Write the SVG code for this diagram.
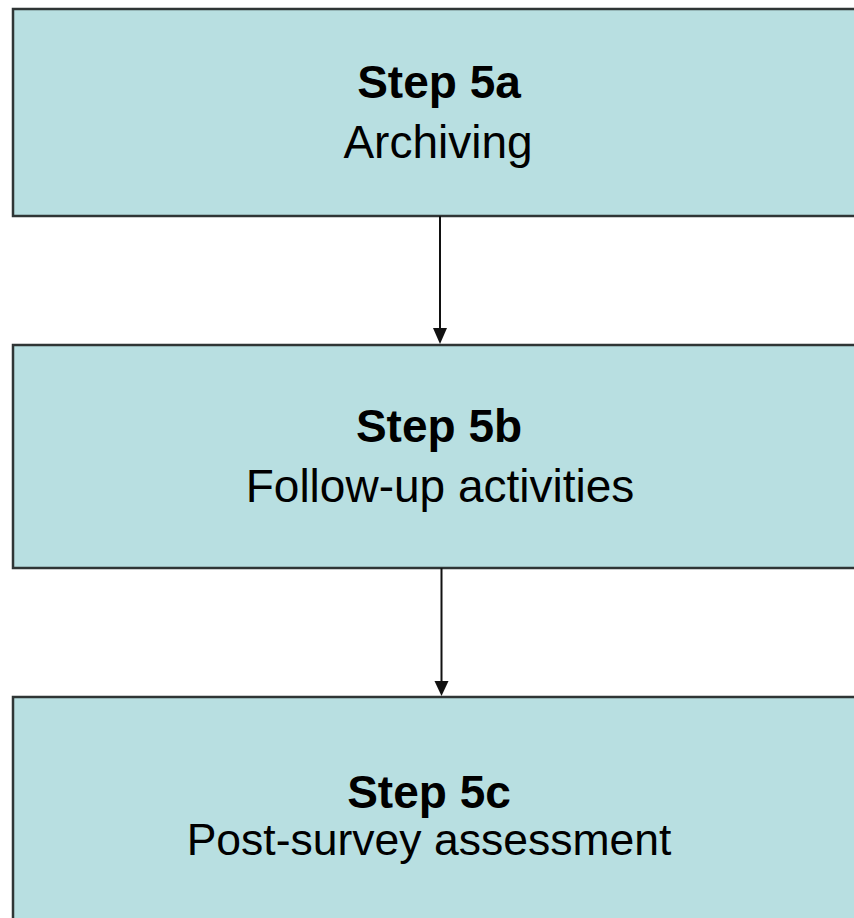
<svg xmlns="http://www.w3.org/2000/svg" width="854" height="918" viewBox="0 0 854 918">
<style>
.box{fill:#b8dfe1;stroke:#2f3535;stroke-width:2.5}
.t{font-family:"Liberation Sans",Arial,sans-serif;font-size:46px;fill:#000;text-anchor:middle}
.b{font-weight:bold}
.c{stroke:#111;stroke-width:2;fill:none}
.h{fill:#111}
</style>
<rect width="854" height="918" fill="#ffffff"/>
<g id="step5a">
<rect class="box" x="13" y="9" width="860" height="207"/>
<text class="t b" x="439" y="98">Step 5a</text>
<text class="t" x="438" y="158">Archiving</text>
</g>
<g id="step5b">
<rect class="box" x="13" y="345" width="860" height="223"/>
<text class="t b" x="439" y="442">Step 5b</text>
<text class="t" x="440" y="502">Follow-up activities</text>
</g>
<g id="step5c">
<rect class="box" x="13" y="697" width="860" height="250"/>
<text class="t b" x="429" y="808">Step 5c</text>
<text class="t" x="429" y="855" style="font-size:44.5px">Post-survey assessment</text>
</g>
<g id="connectors">
<line class="c" x1="440" y1="216" x2="440" y2="330"/>
<polygon class="h" points="433,328 447,328 440,344"/>
<line class="c" x1="441.5" y1="568" x2="441.5" y2="683"/>
<polygon class="h" points="434.5,681 448.5,681 441.5,696"/>
</g>
</svg>
